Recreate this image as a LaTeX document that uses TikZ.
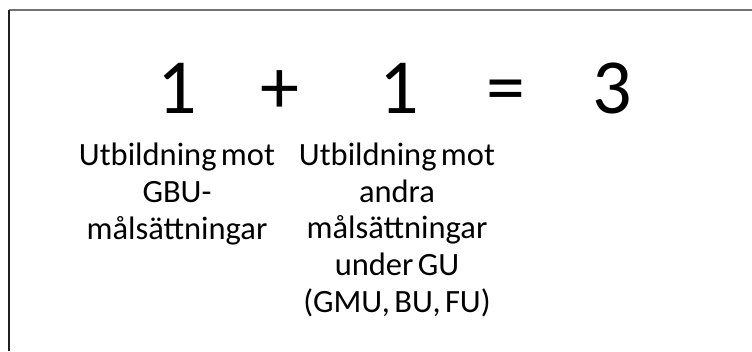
\documentclass[tikz,border=0pt]{standalone}
\usepackage{fontspec}
\setmainfont{Carlito}
\newfontfamily\labfont[WordSpace=0.6]{Carlito}
\begin{document}
\begin{tikzpicture}[x=1pt,y=-1pt,
  bignum/.style={inner sep=0pt, anchor=base, font=\fontsize{78}{82}\selectfont},
  label/.style={inner sep=0pt, anchor=base, align=center, font=\labfont\fontsize{32.5}{36.6}\selectfont},
  frametop/.style={draw=black!55, line width=2pt},
  frameleft/.style={draw=black!88, line width=2pt}]
\useasboundingbox (0,0) rectangle (752,351);
\coordinate (tl) at (9,10);
\coordinate (tr) at (752,10);
\coordinate (bl) at (9,351);
\draw[frametop] (tl) -- (tr);
\draw[frameleft] (tl) -- (bl);
\node[bignum] (one1) at (177,113) {1};
\node[bignum] (plus) at (280,113) {+};
\node[bignum] (one2) at (399,113) {1};
\node[bignum] (eq) at (506,113) {=};
\node[bignum] (three) at (612,113) {3};
\node[label] (l1) at (177,239) {Utbildning mot\\GBU-\\målsättningar};
\node[label] (l2) at (397,312) {Utbildning mot\\andra\\målsättningar\\under GU\\(GMU, BU, FU)};
\end{tikzpicture}
\end{document}
